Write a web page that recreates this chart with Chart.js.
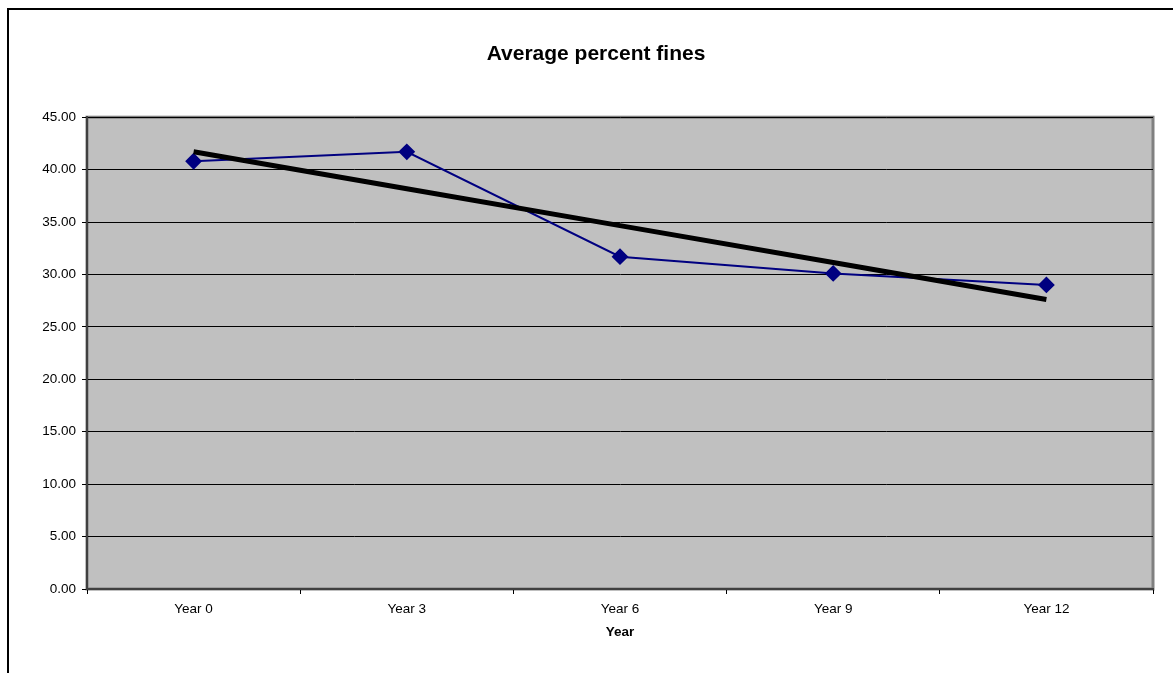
<!DOCTYPE html>
<html>
<head>
<meta charset="utf-8">
<script src="https://cdn.jsdelivr.net/npm/chart.js@4.4.1/dist/chart.umd.min.js"></script>
<style>
  html, body { margin: 0; padding: 0; background: #ffffff; overflow: hidden; width: 1173px; height: 673px; }
  #frame { position: absolute; left: 7px; top: 8px; width: 1300px; height: 800px; border-left: 2px solid #000; border-top: 2px solid #000; box-sizing: border-box; }
  #chart { position: absolute; left: 0; top: 0; }
</style>
</head>
<body>
<div id="frame"></div>
<canvas id="chart" width="1192" height="673"></canvas>
<script>
// Survey years and the average percentage of fines measured in each
const years = ['Year 0', 'Year 3', 'Year 6', 'Year 9', 'Year 12'];
const avgFines = [40.8, 41.7, 31.7, 30.1, 29.0];
const yTicks = [0, 5, 10, 15, 20, 25, 30, 35, 40, 45];

// Linear (least-squares) trend through the yearly averages
function linearTrend(values) {
  const n = values.length;
  const mx = (n - 1) / 2;
  const my = values.reduce((a, b) => a + b, 0) / n;
  let sxy = 0, sxx = 0;
  values.forEach((v, i) => { sxy += (i - mx) * (v - my); sxx += (i - mx) * (i - mx); });
  const slope = sxy / sxx;
  return values.map((_, i) => my + slope * (i - mx));
}
const trend = linearTrend(avgFines);

const FONT = "'Liberation Sans', Arial, sans-serif";

// Grey plot area with a grey frame, painted before the grid
const plotBackground = {
  id: 'plotBackground',
  beforeDraw(chart) {
    const { ctx, chartArea: a } = chart;
    ctx.save();
    ctx.fillStyle = '#c0c0c0';
    ctx.fillRect(a.left, a.top, a.right - a.left, a.bottom - a.top);
    ctx.strokeStyle = '#808080';
    ctx.lineWidth = 3;
    ctx.strokeRect(a.left, a.top, a.right - a.left, a.bottom - a.top);
    ctx.restore();
  }
};

new Chart(document.getElementById('chart'), {
  type: 'line',
  data: {
    labels: years,
    datasets: [
      {
        label: 'Average percent fines',
        data: avgFines,
        borderColor: '#000080',
        backgroundColor: '#000080',
        borderWidth: 2,
        pointStyle: 'rectRot',
        pointRadius: 7,
        pointHoverRadius: 7,
        pointBackgroundColor: '#000080',
        pointBorderColor: '#000080',
        tension: 0,
        order: 2
      },
      {
        label: 'Linear trend',
        data: trend,
        borderColor: '#000000',
        borderWidth: 5,
        pointRadius: 0,
        pointHoverRadius: 0,
        tension: 0,
        order: 1
      }
    ]
  },
  options: {
    responsive: false,
    animation: false,
    layout: { padding: { left: 0, right: 0, top: 0, bottom: 28.6 } },
    plugins: {
      legend: { display: false },
      tooltip: { enabled: false },
      title: {
        display: true,
        text: 'Average percent fines',
        color: '#000',
        font: { family: FONT, size: 21, weight: 'bold' },
        padding: { top: 42, bottom: 50 }
      }
    },
    scales: {
      x: {
        offset: true,
        grid: {
          offset: true,
          drawOnChartArea: false,
          drawTicks: true,
          tickLength: 5,
          color: '#000'
        },
        border: { display: true, color: '#404040', width: 2 },
        ticks: {
          color: '#000',
          padding: 7,
          font: { family: FONT, size: 13.5 }
        },
        title: {
          display: true,
          text: 'Year',
          color: '#000',
          font: { family: FONT, size: 13.5, weight: 'bold' },
          padding: { top: 0, bottom: 4 }
        }
      },
      y: {
        min: yTicks[0],
        max: yTicks[yTicks.length - 1],
        afterBuildTicks(scale) {
          scale.ticks = yTicks.map(v => ({ value: v }));
        },
        afterFit(scale) { scale.width = 87; },
        grid: {
          drawOnChartArea: true,
          drawTicks: true,
          tickLength: 5,
          color: '#000',
          lineWidth: 1
        },
        border: { display: true, color: '#404040', width: 2 },
        ticks: {
          color: '#000',
          padding: 6,
          font: { family: FONT, size: 13.5 },
          callback: v => Number(v).toFixed(2)
        }
      },
      // blank margin to the right of the plot area
      yMargin: {
        position: 'right',
        display: true,
        grid: { display: false },
        border: { display: false },
        ticks: { display: false },
        afterFit(scale) { scale.width = 39; }
      }
    }
  },
  plugins: [plotBackground]
});
</script>
</body>
</html>
